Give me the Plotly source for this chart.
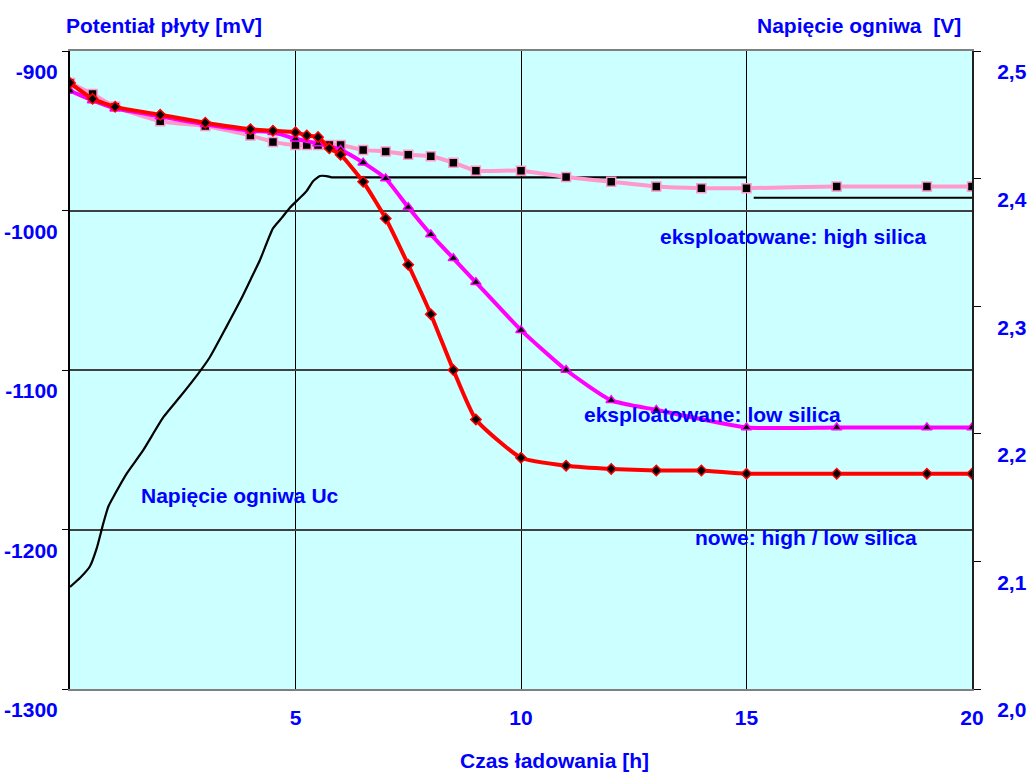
import plotly.graph_objects as go

# ---- data (time in hours) ----
t_high_silica = [0, 0.5, 1, 2, 3, 4, 4.5, 5, 5.25, 5.5, 5.75, 6, 6.5, 7, 7.5, 8, 8.5, 9, 10, 11, 12, 13, 14, 15, 17, 19, 20]
u_high_silica = [-920, -927, -935, -944, -947, -953, -957, -959, -959, -959, -959, -959, -962, -963, -965, -966, -970, -975,
                 -975, -979, -982, -985, -986, -986, -985, -985, -985]

t_low_silica = [0, 0.5, 1, 2, 3, 4, 4.5, 5, 5.5, 6, 6.5, 7, 7.5, 8, 8.5, 9, 10, 11, 12, 13, 15, 17, 19, 20]
u_low_silica = [-925, -931, -936, -941, -946, -950, -951, -955, -958, -962, -970, -980, -998, -1015, -1030, -1045,
                -1075, -1100, -1119, -1125, -1136, -1136, -1136, -1136]

t_new = [0, 0.5, 1, 2, 3, 4, 4.5, 5, 5.25, 5.5, 5.75, 6, 6.5, 7, 7.5, 8, 8.5, 9, 10, 11, 12, 13, 14, 15, 17, 19, 20]
u_new = [-920, -930, -935, -940, -945, -949, -950, -951, -953, -954, -961, -965, -982, -1005, -1034, -1065, -1100,
         -1131, -1155, -1160, -1162, -1163, -1163, -1165, -1165, -1165, -1165]

t_uc = [0, 0.22, 0.44, 0.59, 0.74, 0.85, 1.0, 1.26, 1.62, 2.07, 2.44, 2.84, 3.10, 3.47, 3.80, 4.06, 4.21, 4.50,
        4.69, 4.87, 5.24, 5.39, 5.54, 5.69, 5.80, 6.0, 15.0]
v_uc = [2.080, 2.087, 2.096, 2.110, 2.130, 2.143, 2.153, 2.169, 2.187, 2.213, 2.229, 2.247, 2.260, 2.284, 2.306,
        2.325, 2.336, 2.361, 2.369, 2.377, 2.390, 2.398, 2.402, 2.402, 2.401, 2.401, 2.401]
t_uc2 = [15.16, 20]
v_uc2 = [2.385, 2.385]

x_ticks = [5, 10, 15, 20]
x_tick_labels = ["5", "10", "15", "20"]
y_left_ticks = [-900, -1000, -1100, -1200, -1300]
y_left_labels = ["-900", "-1000", "-1100", "-1200", "-1300"]
y_right_ticks = [2.0, 2.1, 2.2, 2.3, 2.4, 2.5]
y_right_labels = ["2,0", "2,1", "2,2", "2,3", "2,4", "2,5"]

BLUE = "#0000FF"
FONT = "Liberation Sans, Arial, sans-serif"

fig = go.Figure()

# cell voltage (right axis, drawn underneath)
fig.add_trace(go.Scatter(x=t_uc, y=v_uc, mode="lines", yaxis="y",
                         line=dict(color="black", width=2.2, shape="spline", smoothing=0.5),
                         name="Napięcie ogniwa Uc", showlegend=False))
fig.add_trace(go.Scatter(x=t_uc2, y=v_uc2, mode="lines", yaxis="y",
                         line=dict(color="black", width=2.2),
                         name="Napięcie ogniwa Uc (2)", showlegend=False))

# plate potential (left axis)
fig.add_trace(go.Scatter(x=t_high_silica, y=u_high_silica, mode="lines+markers", yaxis="y2",
                         line=dict(color="#FF99CC", width=4, shape="spline", smoothing=0.5),
                         marker=dict(symbol="square", size=9, color="black", line=dict(color="#FF99CC", width=1.5)),
                         name="eksploatowane: high silica", showlegend=False))
fig.add_trace(go.Scatter(x=t_low_silica, y=u_low_silica, mode="lines+markers", yaxis="y2",
                         line=dict(color="#FF00FF", width=4, shape="spline", smoothing=0.5),
                         marker=dict(symbol="triangle-up", size=9, color="black", line=dict(color="#FF00FF", width=1.5)),
                         name="eksploatowane: low silica", showlegend=False))
fig.add_trace(go.Scatter(x=t_new, y=u_new, mode="lines+markers", yaxis="y2",
                         line=dict(color="#FF0000", width=4, shape="spline", smoothing=0.5),
                         marker=dict(symbol="diamond", size=8, color="black", line=dict(color="#FF0000", width=1.5)),
                         name="nowe: high / low silica", showlegend=False))

tickfont = dict(family=FONT, size=21, color=BLUE, weight="bold")
textfont = dict(family=FONT, size=21, color=BLUE, weight="bold")

fig.update_layout(
    width=1030, height=774,
    margin=dict(l=70, r=58, t=51, b=85, autoexpand=False),
    paper_bgcolor="white",
    plot_bgcolor="#CCFFFF",
    font=dict(family=FONT, color=BLUE),
    xaxis=dict(range=[0, 20], tickvals=x_ticks, ticktext=x_tick_labels, automargin=False,
               showgrid=True, gridcolor="black", gridwidth=1,
               showline=True, linecolor="#808080", linewidth=2, mirror=True,
               ticks="", ticklabelstandoff=9, tickfont=tickfont, zeroline=False),
    yaxis=dict(range=[2.0, 2.5], tickvals=y_right_ticks, ticktext=y_right_labels, side="right",
               automargin=False, showgrid=False, zeroline=False,
               showline=True, linecolor="#202020", linewidth=2,
               ticks="outside", ticklen=7, tickcolor="black", tickwidth=1,
               ticklabelshift=21, ticklabelstandoff=12, tickfont=tickfont),
    yaxis2=dict(range=[-1300, -900], tickvals=y_left_ticks, ticktext=y_left_labels, overlaying="y", side="left",
                automargin=False, showgrid=True, gridcolor="#404040", gridwidth=1.5, zeroline=False,
                showline=True, linecolor="black", linewidth=2,
                ticks="outside", ticklen=6, tickcolor="black", tickwidth=1,
                ticklabelshift=21, tickfont=tickfont),
    annotations=[
        dict(text="Potentiał płyty [mV]", xref="paper", yref="paper", x=-0.007, y=1.0,
             xanchor="left", yanchor="middle", yshift=26, showarrow=False, font=textfont),
        dict(text="Napięcie ogniwa  [V]", xref="paper", yref="paper", x=0.99, y=1.0,
             xanchor="right", yanchor="middle", yshift=26, showarrow=False, font=textfont),
        dict(text="Czas ładowania [h]", xref="paper", yref="paper", x=0.537, y=0.0,
             xanchor="center", yanchor="middle", yshift=-71, showarrow=False, font=textfont),
        dict(text="eksploatowane: high silica", xref="x", yref="y2", x=16.02, y=-1016.5,
             showarrow=False, font=textfont),
        dict(text="eksploatowane: low silica", xref="x", yref="y2", x=14.25, y=-1128.2,
             showarrow=False, font=textfont),
        dict(text="nowe: high / low silica", xref="x", yref="y2", x=16.33, y=-1205,
             showarrow=False, font=textfont),
        dict(text="Napięcie ogniwa Uc", xref="x", yref="y2", x=3.78, y=-1178.5,
             showarrow=False, font=textfont),
    ],
)

fig.write_html("out.html", config={"displayModeBar": False},
               post_script="document.body.style.margin='0px'; document.body.style.overflow='hidden';")
